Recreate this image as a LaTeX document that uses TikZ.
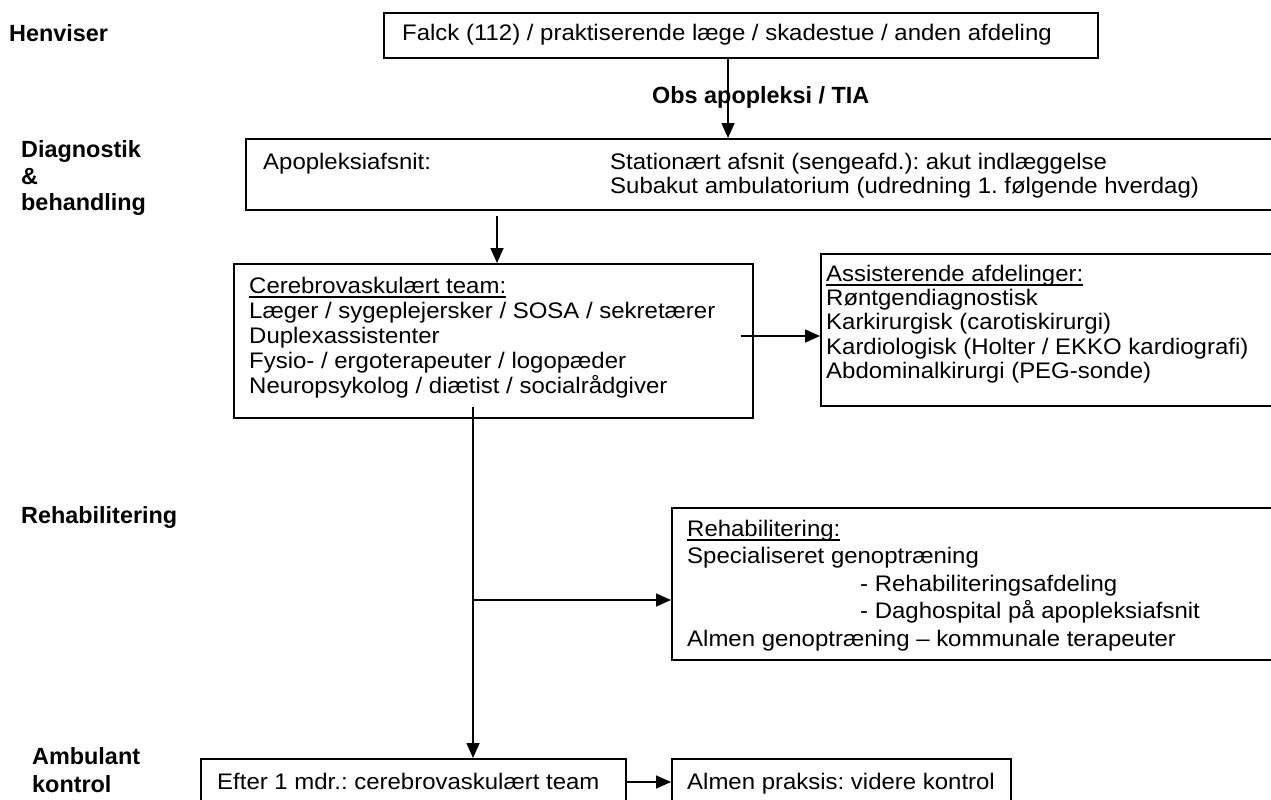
\documentclass[tikz,border=0pt]{standalone}
\usepackage{fontspec}
\setmainfont{Liberation Sans}[FakeStretch=1.065]
\newfontfamily\lblfont{Liberation Sans}
\usetikzlibrary{arrows.meta}
\frenchspacing
\newcommand\myul[1]{\vtop{\hbox{\raisebox{0pt}[\height][0pt]{#1}}\kern3.4pt\hrule height 1.4pt}}
\begin{document}
\begin{tikzpicture}[x=1pt,y=-1pt,
  box/.style={draw, line width=1.6pt, inner sep=0pt, anchor=north west},
  txt/.style={anchor=base west, inner sep=0pt, font=\fontsize{22.5}{24}\selectfont},
  lbl/.style={anchor=base west, inner sep=0pt, font=\fontsize{23.4}{26}\lblfont\bfseries},
  arr/.style={line width=1.6pt, -{Triangle[length=15pt,width=13pt]}},
  ln/.style={line width=1.6pt}]
\useasboundingbox (0,0) rectangle (1271,800);
\clip (0,0) rectangle (1271,800);
\fill[white] (0,0) rectangle (1271,800);

% left labels
\node[lbl] (hen) at (9,42) {Henviser};
\node[lbl] (dia1) at (21,157) {Diagnostik};
\node[lbl] (dia2) at (21,184) {\&};
\node[lbl] (dia3) at (21,210) {behandling};
\node[lbl] (reh) at (21,523) {Rehabilitering};
\node[lbl] (amb1) at (32,764) {Ambulant};
\node[lbl] (amb2) at (32,792) {kontrol};

% boxes
\node[box, minimum width=714pt, minimum height=45pt] (b1) at (383,12) {};
\node[box, minimum width=1045pt, minimum height=71pt] (b2) at (245,138) {};
\node[box, minimum width=519pt, minimum height=154pt] (b3) at (233,263) {};
\node[box, minimum width=470pt, minimum height=152pt] (b4) at (820,253) {};
\node[box, minimum width=619pt, minimum height=152pt] (b6) at (671,507) {};
\node[box, minimum width=425pt, minimum height=72pt] (b5) at (200,758) {};
\node[box, minimum width=339pt, minimum height=72pt] (b7) at (671,758) {};

% texts
\node[txt] (t1) at (402,41) {Falck (112) / praktiserende læge / skadestue / anden afdeling};
\node[lbl] (obs) at (652,103) {Obs apopleksi / TIA};

\node[txt] (t2a) at (263,169) {Apopleksiafsnit:};
\node[txt] (t2b) at (610,169) {Stationært afsnit (sengeafd.): akut indlæggelse};
\node[txt] (t2c) at (610,193) {Subakut ambulatorium (udredning 1. følgende hverdag)};

\node[txt] (t3a) at (249,293) {\myul{Cerebrovaskulært team:}};
\node[txt] (t3b) at (249,318) {Læger / sygeplejersker / SOSA / sekretærer};
\node[txt] (t3c) at (249,343) {Duplexassistenter};
\node[txt] (t3d) at (249,368) {Fysio- / ergoterapeuter / logopæder};
\node[txt] (t3e) at (249,393) {Neuropsykolog / diætist / socialrådgiver};

\node[txt] (t4a) at (826,281) {\myul{Assisterende afdelinger:}};
\node[txt] (t4b) at (826,305) {Røntgendiagnostisk};
\node[txt] (t4c) at (826,329) {Karkirurgisk (carotiskirurgi)};
\node[txt] (t4d) at (826,354) {Kardiologisk (Holter / EKKO kardiografi)};
\node[txt] (t4e) at (826,378) {Abdominalkirurgi (PEG-sonde)};

\node[txt] (t6a) at (687,536) {\myul{Rehabilitering:}};
\node[txt] (t6b) at (687,563) {Specialiseret genoptræning};
\node[txt] (t6c) at (860,591) {- Rehabiliteringsafdeling};
\node[txt] (t6d) at (860,618) {- Daghospital på apopleksiafsnit};
\node[txt] (t6e) at (687,646) {Almen genoptræning -- kommunale terapeuter};

\node[txt] (t5) at (217,789) {Efter 1 mdr.: cerebrovaskulært team};
\node[txt] (t7) at (687,789) {Almen praksis: videre kontrol};

% connector coordinates
\coordinate (c1) at (728,0);
\coordinate (c2) at (497,0);
\coordinate (c3) at (0,336);
\coordinate (c4) at (473,0);
\coordinate (c5) at (0,600);
\coordinate (c6) at (0,782);

% connectors
\draw[arr] (b1.south -| c1) -- (b2.north -| c1);
\draw[arr] ([yshift=-5pt]b2.south -| c2) -- (b3.north -| c2);
\draw[arr] ([xshift=-13pt]b3.east |- c3) -- (b4.west |- c3);
\draw[arr] ([yshift=12pt]b3.south -| c4) -- (b5.north -| c4);
\coordinate (br) at (c4 |- c5);
\draw[arr] (br) -- (b6.west |- c5);
\draw[arr] (b5.east |- c6) -- (b7.west |- c6);
\end{tikzpicture}
\end{document}
